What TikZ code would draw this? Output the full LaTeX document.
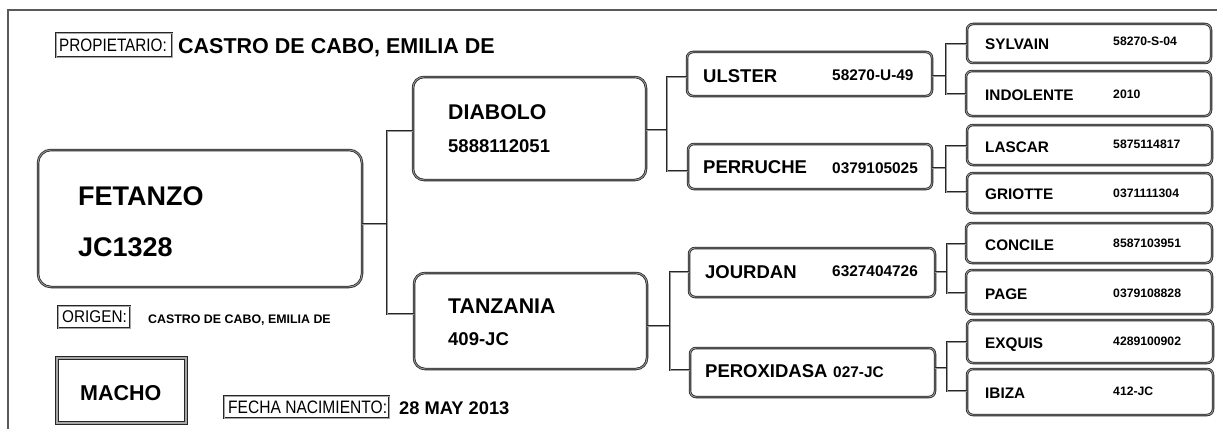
\documentclass[tikz,border=0pt]{standalone}
\usepackage{fontspec}
\setmainfont{Liberation Sans}
\tikzset{
  rbox/.style={draw=black!85, line width=0.8pt, double=black!40, double distance=0.9pt, rounded corners=9pt, inner sep=0pt},
  sbox/.style={draw=black!85, line width=0.7pt, double=black!35, double distance=0.5pt, inner sep=0pt},
  conn/.style={draw=black!85, line width=0.8pt, double=black!40, double distance=0.9pt},
  frame/.style={draw=black!65, line width=2.2pt},
  txt/.style={anchor=base west, inner sep=0pt, text=black},
}
\newcommand\pedbx[6]{\node[#6, minimum width={(#4-#2)*1pt}, minimum height={(#5-#3)*1pt}] (#1) at ({(#2+#4)/2},{(#3+#5)/2}) {};}
\newcommand\pedfam[7]{%
  \coordinate (#1-j) at (#4,#5);
  \coordinate (#1-t) at (#4,#6);
  \coordinate (#1-b) at (#4,#7);
  \draw[conn] (#1.east |- #1-j) -- (#1-j);
  \draw[conn] (#2.west |- #1-t) -- (#1-t) -- (#1-b) -- (#3.west |- #1-b);}
\newcommand\pedbf[1]{\bfseries\fontsize{#1}{#1}\selectfont}
\newcommand\pednm[1]{\fontsize{#1}{#1}\selectfont}
\begin{document}
\begin{tikzpicture}[x=1pt,y=-1pt]
\useasboundingbox (0,0) rectangle (1217,428);
\fill[white] (0,0) rectangle (1217,428);
\draw[frame] (8,432) -- (8,10) -- (1220,10);

% boxes
\pedbx{fet}{38}{150}{362}{287}{rbox, rounded corners=13pt}
\pedbx{dia}{413}{77}{646}{180}{rbox, rounded corners=11pt}
\pedbx{tan}{414}{273}{647}{369}{rbox, rounded corners=11pt}
\pedbx{uls}{687}{52}{932}{96}{rbox, rounded corners=6pt}
\pedbx{per}{688}{144}{932}{189}{rbox, rounded corners=6pt}
\pedbx{jou}{689}{248}{935}{297}{rbox, rounded corners=6pt}
\pedbx{pex}{690}{348}{935}{397}{rbox, rounded corners=6pt}
\pedbx{syl}{967}{24}{1211}{63}{rbox, rounded corners=6pt}
\pedbx{ind}{966}{71}{1211}{116}{rbox, rounded corners=6pt}
\pedbx{las}{967}{125}{1212}{165}{rbox, rounded corners=6pt}
\pedbx{gri}{967}{173}{1212}{213}{rbox, rounded corners=6pt}
\pedbx{con}{966}{223}{1212}{263}{rbox, rounded corners=6pt}
\pedbx{pag}{966}{270}{1212}{314}{rbox, rounded corners=6pt}
\pedbx{exq}{967}{320}{1213}{363}{rbox, rounded corners=6pt}
\pedbx{ibi}{967}{369}{1213}{415}{rbox, rounded corners=6pt}
\pedbx{prop}{56}{33}{172}{57}{sbox}
\pedbx{orig}{58}{306}{130}{328}{sbox}
\pedbx{mach}{57}{358}{186}{423}{sbox, line width=0.9pt, double distance=1.3pt}
\pedbx{fech}{224}{396}{389}{418}{sbox}

% connectors
\pedfam{fet}{dia}{tan}{387}{224}{131}{314}
\pedfam{dia}{uls}{per}{667}{130}{77}{171}
\pedfam{tan}{jou}{pex}{670}{326}{272}{370}
\pedfam{uls}{syl}{ind}{946}{76}{44}{94}
\pedfam{per}{las}{gri}{946}{168}{146}{192}
\pedfam{jou}{con}{pag}{947}{272}{244}{293}
\pedfam{pex}{exq}{ibi}{947}{368}{342}{391}

% texts
\node[txt, font=\pednm{18}] (tprop) at (59,52) {\scalebox{0.85}[1]{PROPIETARIO:}};
\node[txt, font=\pedbf{21.5}] (towner) at (178,54) {CASTRO DE CABO, EMILIA DE};
\node[txt, font=\pedbf{27}] (tfet) at (78,205) {FETANZO};
\node[txt, font=\pedbf{27}] (tfetn) at (78,256) {JC1328};
\node[txt, font=\pednm{17}] (torig) at (62,322) {\scalebox{0.9}[1]{ORIGEN:}};
\node[txt, font=\pedbf{12.4}] (torign) at (148,323) {CASTRO DE CABO, EMILIA DE};
\node[txt, font=\pedbf{21.5}] (tmach) at (80,400) {MACHO};
\node[txt, font=\pednm{18}] (tfech) at (228,413) {\scalebox{0.865}[1]{FECHA NACIMIENTO:}};
\node[txt, font=\pedbf{18.3}] (tfechv) at (399,414) {28 MAY 2013};

\node[txt, font=\pedbf{21.3}] (tdia) at (448,119) {DIABOLO};
\node[txt, font=\pedbf{18.5}] (tdian) at (448,152) {5888112051};
\node[txt, font=\pedbf{21.3}] (ttan) at (448,313) {TANZANIA};
\node[txt, font=\pedbf{18.5}] (ttann) at (448,345) {409-JC};

\node[txt, font=\pedbf{18.5}] (tuls) at (703,82) {ULSTER};
\node[txt, font=\pedbf{15.4}] (tulsn) at (832,81) {58270-U-49};
\node[txt, font=\pedbf{18.5}] (tper) at (703,173) {PERRUCHE};
\node[txt, font=\pedbf{15.4}] (tpern) at (832,173) {0379105025};
\node[txt, font=\pedbf{18.5}] (tjou) at (705,278) {JOURDAN};
\node[txt, font=\pedbf{15.4}] (tjoun) at (832,276) {6327404726};
\node[txt, font=\pedbf{18.5}] (tpex) at (705,377) {PEROXIDASA};
\node[txt, font=\pedbf{15.4}] (tpexn) at (833,377) {027-JC};

\node[txt, font=\pedbf{15.3}] (tsyl) at (985,50) {SYLVAIN};
\node[txt, font=\pedbf{12.2}] (tsyln) at (1113,46) {58270-S-04};
\node[txt, font=\pedbf{15.3}] (tind) at (985,100) {INDOLENTE};
\node[txt, font=\pedbf{12.2}] (tindn) at (1113,98) {2010};
\node[txt, font=\pedbf{15.3}] (tlas) at (985,152) {LASCAR};
\node[txt, font=\pedbf{12.2}] (tlasn) at (1113,148) {5875114817};
\node[txt, font=\pedbf{15.3}] (tgri) at (985,199) {GRIOTTE};
\node[txt, font=\pedbf{12.2}] (tgrin) at (1113,197) {0371111304};
\node[txt, font=\pedbf{15.3}] (tcon) at (985,250) {CONCILE};
\node[txt, font=\pedbf{12.2}] (tconn) at (1113,247) {8587103951};
\node[txt, font=\pedbf{15.3}] (tpag) at (985,299) {PAGE};
\node[txt, font=\pedbf{12.2}] (tpagn) at (1113,297) {0379108828};
\node[txt, font=\pedbf{15.3}] (texq) at (985,348) {EXQUIS};
\node[txt, font=\pedbf{12.2}] (texqn) at (1113,345) {4289100902};
\node[txt, font=\pedbf{15.3}] (tibi) at (985,398) {IBIZA};
\node[txt, font=\pedbf{12.2}] (tibin) at (1113,395) {412-JC};
\end{tikzpicture}
\end{document}
